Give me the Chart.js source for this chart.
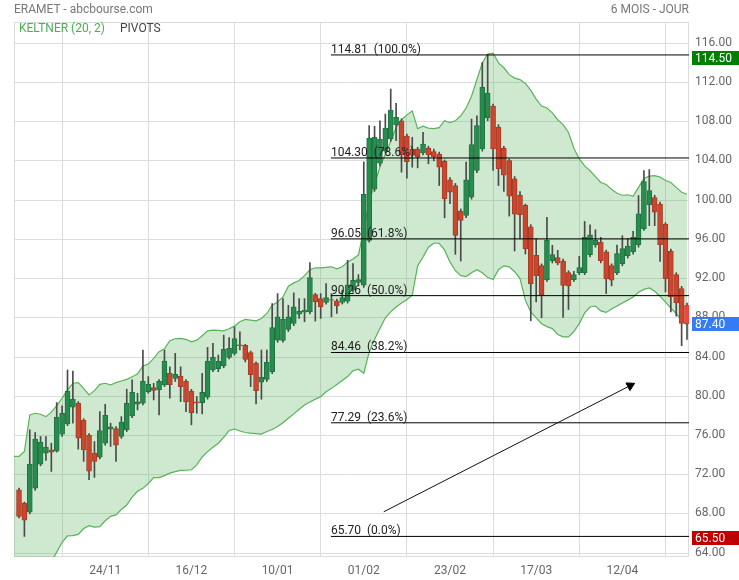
<!DOCTYPE html>
<html>
<head>
<meta charset="utf-8">
<script src="https://cdn.jsdelivr.net/npm/chart.js@4.4.1/dist/chart.umd.min.js"></script>
<style>
  body { margin: 0; background: #fff; font-family: Roboto, sans-serif; }
  #wrap { position: relative; width: 739px; height: 580px; }
  .lbl { position: absolute; font-size: 12px; line-height: 14px; white-space: nowrap; }
</style>
</head>
<body>
<div id="wrap">
  <canvas id="chart"></canvas>
  <div class="lbl" style="left:14px;top:2px;color:#777">ERAMET - abcbourse.com</div>
  <div class="lbl" style="right:50px;top:2px;color:#777">6 MOIS - JOUR</div>
  <div class="lbl" style="left:19px;top:21px;color:#4caf50">KELTNER (20, 2)</div>
  <div class="lbl" style="left:120px;top:21px;color:#444">PIVOTS</div>
</div>
<script>
// daily candles, one per session
const opens = [
  70.46, 69.11, 68.16, 70.63, 73.08, 74.20, 74.53, 74.40, 76.13, 77.18,
  78.87, 79.28, 77.55, 76.03, 74.20, 73.79, 75.21, 76.64, 76.70, 75.89,
  76.57, 77.99, 79.18, 79.28, 80.47, 80.88, 80.64, 81.15, 82.33, 81.82,
  82.06, 81.52, 80.50, 79.42, 79.35, 79.89, 82.67, 82.81, 83.11, 83.96,
  84.37, 85.25, 85.18, 84.44, 83.35, 81.42, 81.72, 82.50, 85.72, 85.69,
  86.81, 87.42, 88.37, 88.57, 88.61, 90.37, 89.96, 89.56, 89.86, 89.73,
  89.56, 89.69, 90.81, 91.60, 91.32, 95.90, 101.12, 103.76, 104.99, 106.24,
  107.66, 108.10, 106.54, 105.22, 105.22, 104.82, 105.32, 104.95, 104.71, 103.97,
  102.07, 101.49, 98.88, 98.44, 100.31, 103.02, 105.22, 108.38, 109.60, 107.46,
  105.32, 104.04, 102.17, 100.48, 99.46, 97.29, 94.37, 93.32, 91.89, 93.83,
  94.13, 93.79, 92.61, 91.89, 92.61, 92.61, 94.44, 95.46, 95.69, 94.74,
  93.32, 92.61, 93.52, 94.34, 94.74, 95.46, 97.08, 99.53, 100.27, 99.59,
  97.52, 94.78, 92.40, 90.98, 89.28
];
const highs = [
  70.63, 69.20, 76.57, 76.30, 75.89, 75.89, 75.21, 79.35, 79.01, 82.67,
  82.57, 79.45, 77.70, 76.20, 75.38, 78.43, 79.18, 77.25, 76.90, 77.92,
  80.71, 81.66, 80.30, 84.71, 82.00, 81.32, 81.70, 84.71, 83.00, 84.37,
  83.00, 81.70, 80.70, 79.96, 82.33, 84.98, 85.39, 84.20, 86.23, 85.99,
  87.08, 86.57, 85.30, 84.60, 83.50, 84.71, 84.71, 89.45, 90.47, 89.96,
  89.28, 90.54, 89.96, 89.96, 93.63, 90.50, 90.47, 91.49, 90.47, 89.90,
  90.81, 93.86, 93.52, 92.40, 103.90, 107.60, 107.53, 108.10, 108.78, 111.33,
  109.87, 108.30, 106.75, 106.41, 105.40, 106.92, 105.50, 105.20, 104.90, 104.10,
  102.30, 101.70, 99.10, 103.87, 108.27, 108.61, 114.04, 114.81, 109.80, 107.70,
  105.50, 104.20, 102.40, 100.88, 99.60, 97.50, 96.07, 93.50, 98.24, 95.39,
  94.88, 94.00, 92.80, 92.74, 94.27, 97.83, 97.49, 96.98, 96.20, 94.90,
  93.50, 95.42, 96.37, 96.10, 96.81, 100.47, 103.02, 103.12, 100.50, 99.80,
  97.70, 95.00, 92.60, 91.20, 89.50
];
const lows = [
  67.58, 65.70, 68.00, 70.40, 72.90, 73.45, 72.33, 74.30, 75.90, 77.00,
  77.25, 74.60, 73.35, 71.48, 71.72, 73.60, 75.00, 74.87, 73.35, 75.70,
  76.40, 77.80, 78.60, 79.10, 80.30, 79.62, 78.09, 81.00, 79.79, 81.50,
  79.45, 78.43, 77.08, 78.26, 78.20, 79.70, 82.50, 82.50, 82.90, 83.80,
  84.20, 84.71, 83.50, 80.98, 79.21, 79.69, 81.50, 82.30, 85.50, 85.50,
  86.60, 87.20, 87.93, 87.59, 88.40, 87.66, 87.93, 89.40, 88.10, 88.44,
  89.40, 89.50, 90.60, 91.30, 91.10, 95.70, 100.90, 103.50, 104.80, 106.00,
  106.07, 102.85, 102.24, 103.36, 103.29, 104.60, 103.70, 104.00, 101.49, 98.20,
  99.63, 94.47, 93.79, 98.20, 100.10, 102.80, 105.00, 108.10, 103.02, 101.49,
  100.88, 98.37, 94.81, 96.07, 94.50, 87.69, 89.62, 88.00, 91.70, 93.59,
  93.40, 88.03, 88.84, 91.70, 92.40, 92.40, 94.20, 95.20, 93.60, 90.47,
  91.25, 92.40, 93.30, 94.10, 94.50, 95.20, 96.90, 97.40, 97.39, 93.76,
  90.64, 88.61, 88.17, 85.15, 85.79
];
const closes = [
  67.75, 67.35, 73.08, 75.62, 75.31, 74.81, 74.30, 77.86, 78.26, 80.50,
  79.69, 75.72, 74.53, 72.36, 73.35, 76.50, 78.06, 76.87, 75.01, 77.35,
  79.28, 80.40, 79.42, 81.52, 81.21, 80.60, 81.52, 83.59, 81.18, 82.23,
  80.98, 79.42, 78.33, 79.28, 80.40, 83.55, 83.96, 83.55, 84.78, 84.88,
  85.89, 85.15, 83.76, 82.20, 80.57, 81.93, 83.45, 87.01, 88.10, 87.83,
  88.10, 89.12, 88.67, 88.78, 92.10, 89.62, 89.12, 90.06, 89.79, 89.22,
  90.06, 91.35, 91.83, 91.90, 100.58, 106.34, 106.41, 106.24, 107.36, 109.19,
  108.44, 104.65, 103.93, 104.55, 104.44, 105.73, 104.65, 104.44, 103.36, 100.14,
  100.81, 96.41, 97.93, 102.07, 105.66, 107.60, 111.50, 110.92, 105.22, 103.19,
  102.54, 100.41, 98.58, 98.51, 95.05, 91.46, 92.30, 90.34, 95.90, 94.44,
  93.59, 91.29, 91.25, 92.40, 93.12, 96.20, 96.47, 95.90, 93.83, 91.96,
  91.83, 94.54, 95.05, 95.32, 96.20, 98.61, 101.90, 100.98, 98.78, 95.46,
  91.99, 90.13, 89.52, 87.42, 87.40
];

// Keltner (20, 2) envelope, first value sits one session before the first candle
const bandStart = -1;
const upperBand = [
  73.86, 73.86, 74.36, 78.09, 78.26, 78.16, 77.92, 78.37, 79.04, 79.79,
  80.64, 81.32, 81.38, 80.81, 80.13, 80.57, 81.21, 81.32, 81.15, 81.38,
  81.55, 81.72, 81.99, 82.27, 83.08, 83.28, 83.86, 84.54, 84.84, 85.66,
  85.86, 85.89, 85.79, 85.55, 85.72, 86.17, 86.67, 86.74, 86.71, 86.67,
  86.88, 87.15, 87.59, 87.83, 87.76, 87.69, 87.93, 88.44, 89.28, 89.62,
  90.13, 91.22, 91.56, 91.80, 92.30, 92.90, 93.10, 93.10, 93.15, 93.20,
  93.00, 93.20, 93.70, 94.00, 94.40, 97.00, 99.80, 101.60, 103.40, 104.70,
  106.00, 107.40, 108.20, 108.70, 109.10, 107.30, 107.55, 107.35, 107.30, 107.40,
  108.10, 107.90, 108.10, 108.60, 109.40, 110.60, 112.30, 114.00, 114.90, 115.00,
  114.00, 113.50, 112.80, 112.45, 112.30, 111.90, 111.20, 110.30, 109.60, 109.40,
  108.90, 108.20, 107.70, 106.90, 105.30, 104.20, 103.50, 103.00, 102.40, 101.80,
  101.60, 101.10, 100.70, 100.50, 100.55, 100.40, 101.30, 102.20, 102.45, 102.50,
  102.35, 102.00, 101.80, 101.30, 100.80, 100.60
];
const lowerBand = [
  58.50, 59.00, 59.60, 60.40, 61.20, 61.90, 62.50, 63.10, 64.10, 65.10,
  65.75, 65.78, 65.90, 66.50, 66.80, 66.65, 66.70, 67.30, 67.75, 67.90,
  68.45, 68.90, 69.70, 70.30, 70.60, 71.10, 71.70, 71.70, 71.90, 72.15,
  72.30, 72.43, 72.45, 72.50, 73.00, 73.80, 74.35, 74.80, 75.20, 75.80,
  76.50, 76.65, 76.45, 76.30, 76.23, 76.18, 76.13, 76.40, 76.60, 76.90,
  77.30, 77.75, 78.20, 78.67, 79.10, 79.40, 79.70, 79.95, 80.45, 80.80,
  81.20, 81.60, 82.00, 82.60, 82.75, 82.35, 84.50, 85.80, 86.90, 88.00,
  88.60, 89.10, 89.50, 89.85, 90.30, 93.30, 94.20, 95.20, 95.60, 95.60,
  94.90, 93.70, 92.80, 92.30, 92.20, 92.60, 92.90, 92.60, 92.10, 91.90,
  92.90, 93.30, 93.20, 92.70, 92.00, 89.80, 88.60, 88.00, 87.40, 87.10,
  86.90, 86.30, 86.06, 86.06, 86.60, 87.40, 88.50, 89.10, 89.20, 88.70,
  88.55, 88.90, 89.20, 89.50, 89.80, 90.13, 90.60, 90.90, 91.05, 90.70,
  90.20, 89.60, 89.00, 88.44, 87.70, 87.30
];

const tickIdx = [16, 32, 48, 64, 80, 96, 112];
const tickLabels = ["24/11", "16/12", "10/01", "01/02", "23/02", "17/03", "12/04"];
const yTicks = [64, 68, 72, 76, 80, 84, 88, 92, 96, 100, 104, 108, 112, 116];

// pivots / retracement levels
const fibLevels = [114.81, 104.30, 96.05, 90.26, 84.46, 77.29, 65.70];
const fibPct = ["100.0%", "78.6%", "61.8%", "50.0%", "38.2%", "23.6%", "0.0%"];
const fibFrom = 57.9;

const arrowPts = [{ x: 67.7, y: 68.21 }, { x: 113.45, y: 81.08 }];

const tagValues = [114.50, 87.40, 65.50];
const tagColors = ["#008000", "#357cf4", "#c00000"];

const xMin = -0.93;
const xMax = 124.37;

const idx = opens.map((_, i) => i);
const last = opens.length - 1;

function bodyColor(i) {
  if (i === last) return "#f2443a";
  return closes[i] >= opens[i] ? "#2a8b4f" : "#c9472f";
}
function bodyEdge(i) {
  if (i === last) return "#d93a31";
  return closes[i] >= opens[i] ? "#1f7340" : "#a93a25";
}

const frame = {
  id: "frame",
  beforeDatasetsDraw(chart) {
    const { ctx, chartArea: a } = chart;
    ctx.save();
    ctx.strokeStyle = "#dcdcdc";
    ctx.lineWidth = 1;
    ctx.strokeRect(Math.round(a.left) + 0.5, Math.round(a.top) + 0.5,
      Math.round(a.right - a.left) - 1, Math.round(a.bottom - a.top) - 1);
    ctx.restore();
  }
};

const fibText = {
  id: "fibText",
  afterDatasetsDraw(chart) {
    const { ctx, scales } = chart;
    ctx.save();
    ctx.font = "12px Roboto";
    ctx.fillStyle = "#222";
    ctx.textBaseline = "alphabetic";
    ctx.textAlign = "left";
    fibLevels.forEach((v, k) => {
      ctx.fillText(v.toFixed(2) + "  (" + fibPct[k] + ")",
        scales.x.getPixelForValue(fibFrom), scales.y.getPixelForValue(v) - 2);
    });
    ctx.restore();
  }
};

const priceTags = {
  id: "priceTags",
  afterDraw(chart) {
    const { ctx, scales, chartArea } = chart;
    ctx.save();
    ctx.font = "12px Roboto";
    ctx.textBaseline = "middle";
    tagValues.forEach((v, k) => {
      const py = scales.y.getPixelForValue(v);
      ctx.fillStyle = tagColors[k];
      ctx.fillRect(chartArea.right + 3, Math.round(py) - 7, 50, 14);
      ctx.fillStyle = "#fff";
      ctx.fillText(v.toFixed(2), chartArea.right + 6, Math.round(py) + 0.5);
    });
    ctx.restore();
  }
};

new Chart(document.getElementById("chart"), {
  type: "bar",
  data: {
    datasets: [
      {
        type: "line",
        data: upperBand.map((v, k) => ({ x: k + bandStart, y: v })),
        borderColor: "#58b458",
        borderWidth: 1.2,
        pointRadius: 0,
        fill: "+1",
        backgroundColor: "rgba(76,175,80,0.27)",
        order: 5
      },
      {
        type: "line",
        data: lowerBand.map((v, k) => ({ x: k + bandStart, y: v })),
        borderColor: "#58b458",
        borderWidth: 1.2,
        pointRadius: 0,
        fill: false,
        order: 5
      },
      {
        data: idx.map((i) => ({ x: i, y: [lows[i], highs[i]] })),
        backgroundColor: "#4a4a4a",
        barThickness: 1,
        grouped: false,
        order: 3
      },
      {
        data: idx.map((i) => ({ x: i, y: [opens[i], closes[i]] })),
        backgroundColor: idx.map(bodyColor),
        borderColor: idx.map(bodyEdge),
        borderWidth: 1,
        borderSkipped: false,
        barThickness: 5,
        grouped: false,
        order: 2
      },
      ...fibLevels.map((v) => ({
        type: "line",
        data: [{ x: fibFrom, y: v }, { x: xMax + 2, y: v }],
        borderColor: "#000",
        borderWidth: 1,
        pointRadius: 0,
        order: 1
      })),
      {
        type: "line",
        data: arrowPts,
        borderColor: "#111",
        borderWidth: 1,
        pointRadius: [0, 5],
        pointStyle: "triangle",
        pointRotation: 63,
        pointBackgroundColor: "#000",
        pointBorderColor: "#000",
        order: 0
      }
    ]
  },
  options: {
    responsive: true,
    maintainAspectRatio: false,
    animation: false,
    layout: { padding: { top: 22, left: 14, right: 0, bottom: 0 } },
    plugins: {
      legend: { display: false },
      tooltip: { enabled: false }
    },
    scales: {
      x: {
        type: "linear",
        min: xMin,
        max: xMax,
        offset: false,
        afterBuildTicks: (s) => { s.ticks = tickIdx.map((v) => ({ value: v })); },
        afterFit: (s) => { s.height = 23; },
        grid: { color: "#dddddd", drawTicks: false },
        border: { display: false },
        ticks: {
          autoSkip: false,
          maxRotation: 0,
          padding: 7,
          color: "#666",
          font: { family: "Roboto", size: 12 },
          callback: (v) => {
            const k = tickIdx.indexOf(v);
            return k >= 0 ? tickLabels[k] : "";
          }
        }
      },
      y: {
        position: "right",
        min: 63.6,
        max: 118.17,
        afterBuildTicks: (s) => { s.ticks = yTicks.map((v) => ({ value: v })); },
        afterFit: (s) => { s.width = 50; },
        grid: { color: "#dddddd", drawTicks: false },
        border: { display: false },
        ticks: {
          padding: 6,
          labelOffset: -0.5,
          color: "#666",
          font: { family: "Roboto", size: 12 },
          callback: (v) => Number(v).toFixed(2)
        }
      }
    }
  },
  plugins: [frame, fibText, priceTags]
});
</script>
</body>
</html>
